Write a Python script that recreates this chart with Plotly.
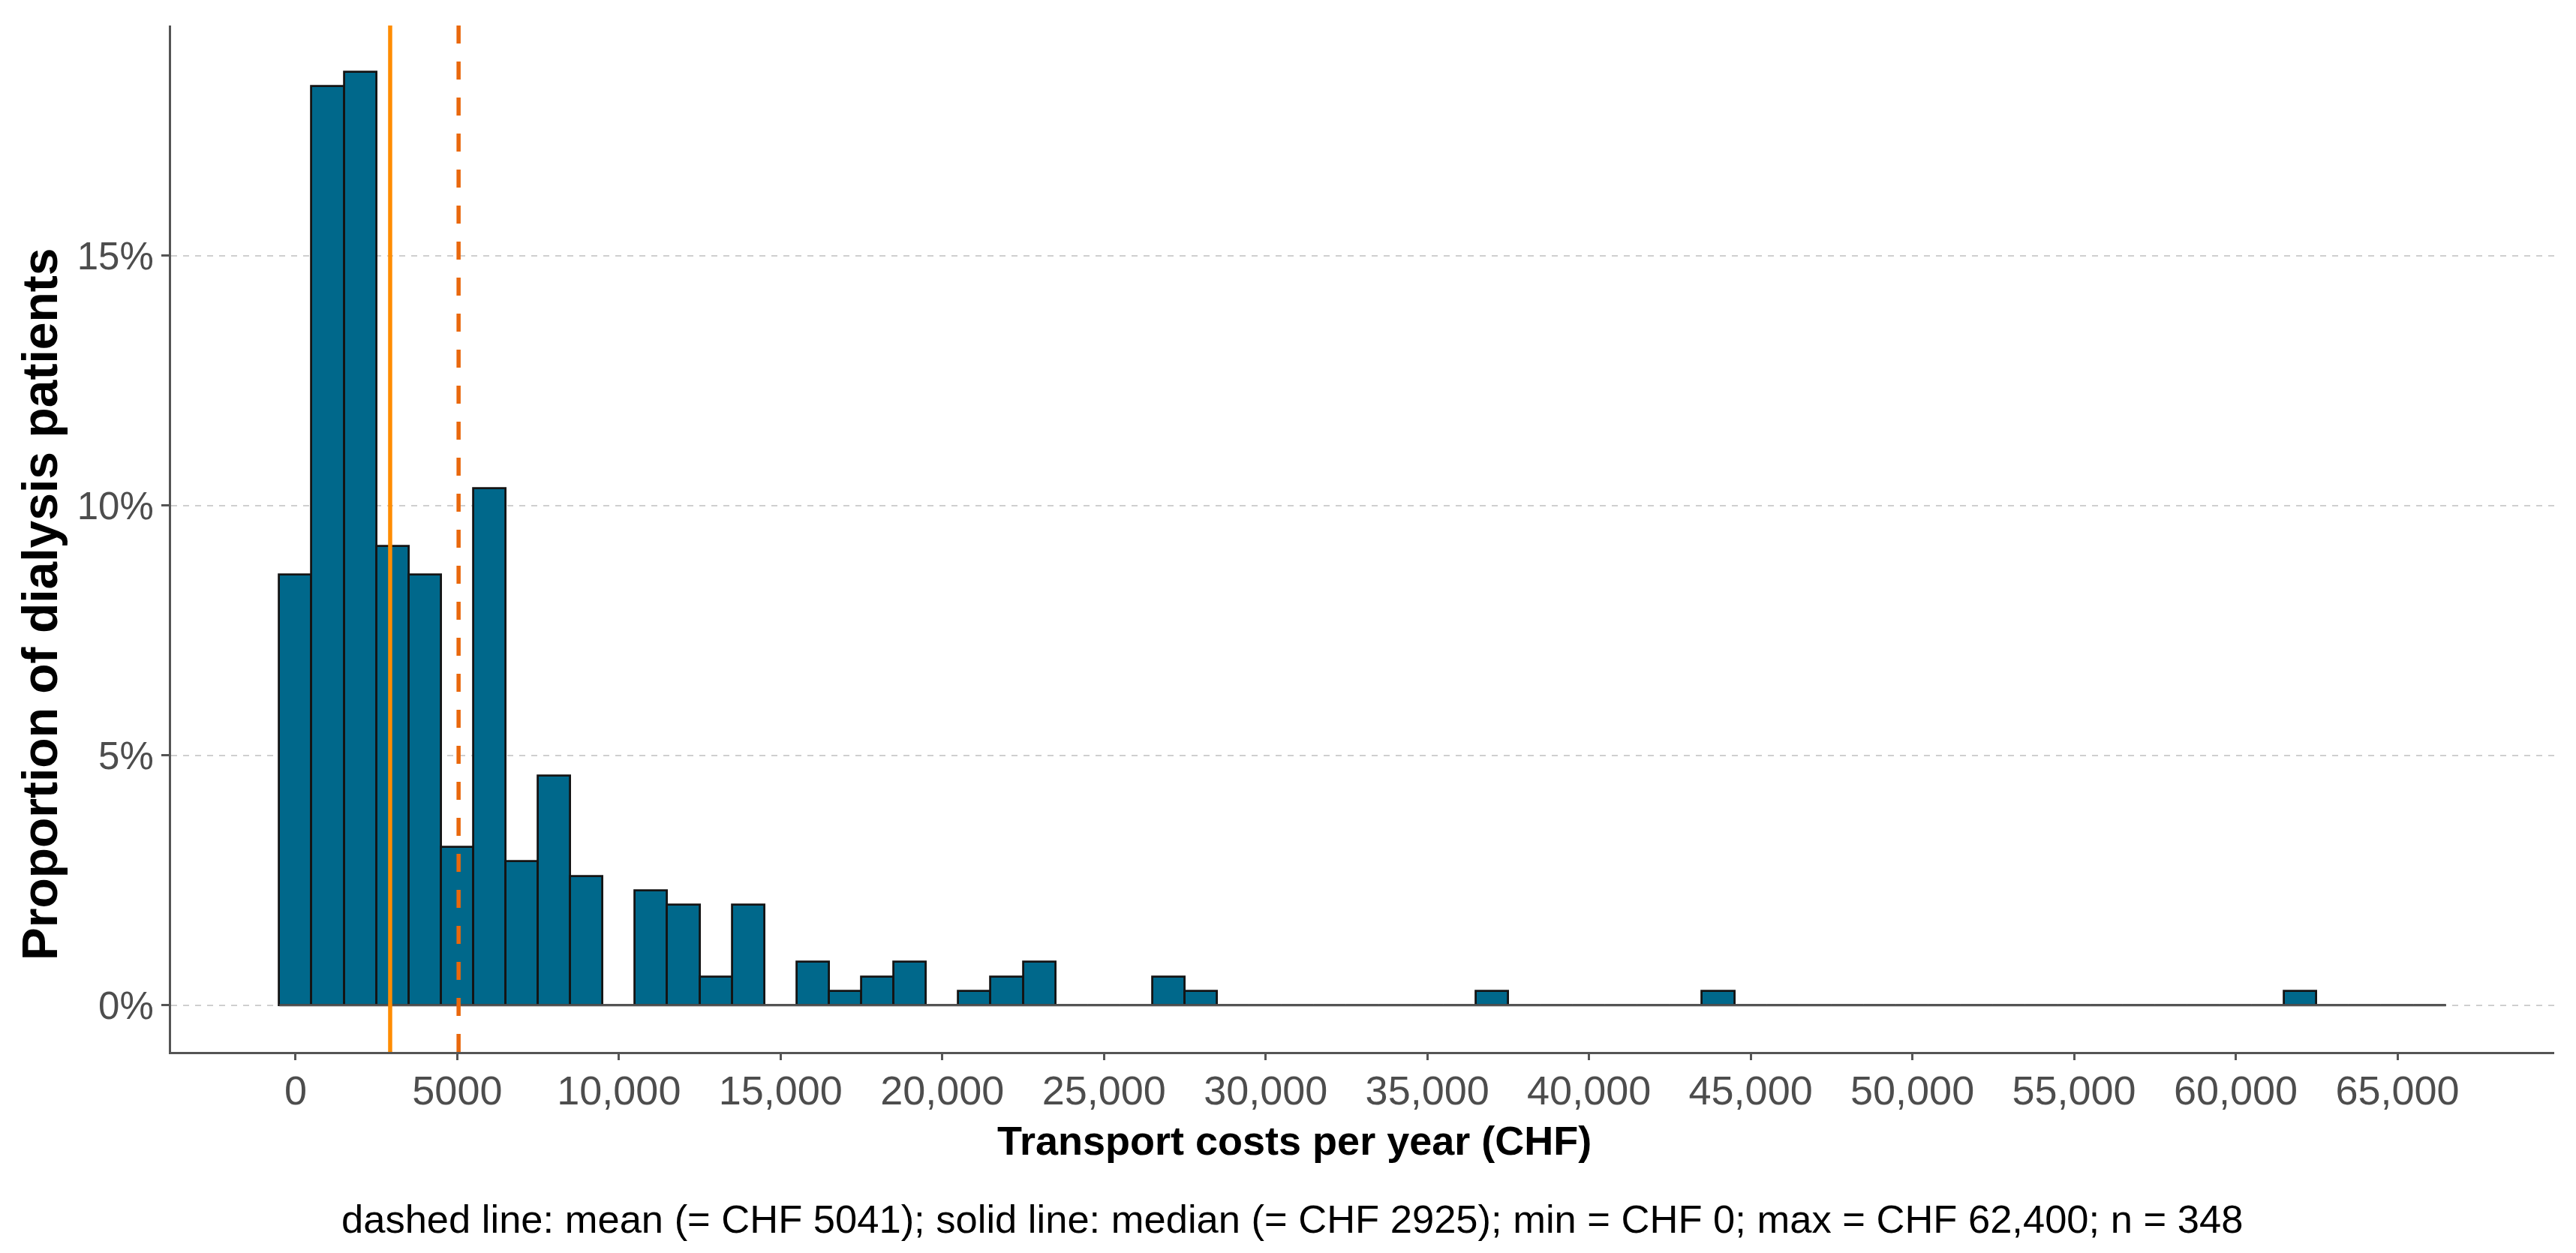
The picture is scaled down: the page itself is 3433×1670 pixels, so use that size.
import plotly.graph_objects as go

# ---- data ----
bin_width = 1000
bin_centers = list(range(0, 67000, 1000))  # 0 ... 66,000 CHF
counts = [30, 64, 65, 32, 30, 11, 36, 10, 16, 9,     # 0 - 9,000
          0, 8, 7, 2, 7, 0, 3, 1, 2, 3,              # 10,000 - 19,000
          0, 1, 2, 3, 0, 0, 0, 2, 1, 0,              # 20,000 - 29,000
          0, 0, 0, 0, 0, 0, 0, 1, 0, 0,              # 30,000 - 39,000
          0, 0, 0, 0, 1, 0, 0, 0, 0, 0,              # 40,000 - 49,000
          0, 0, 0, 0, 0, 0, 0, 0, 0, 0,              # 50,000 - 59,000
          0, 0, 1, 0, 0, 0, 0]                       # 60,000 - 66,000
n_patients = 348
mean_cost = 5041
median_cost = 2925

x_tick_vals = [0, 5000, 10000, 15000, 20000, 25000, 30000, 35000, 40000,
               45000, 50000, 55000, 60000, 65000]
x_tick_text = ["0", "5000", "10,000", "15,000", "20,000", "25,000", "30,000",
               "35,000", "40,000", "45,000", "50,000", "55,000", "60,000", "65,000"]
y_tick_vals = [0, 0.05, 0.10, 0.15]
y_tick_text = ["0%", "5%", "10%", "15%"]

x_title = "Transport costs per year (CHF)"
y_title = "Proportion of dialysis patients"
caption = ("dashed line: mean (= CHF 5041); solid line: median (= CHF 2925); "
           "min = CHF 0; max = CHF 62,400; n = 348")

# ---- derived ----
proportions = [c / n_patients for c in counts]
first_edge = bin_centers[0] - bin_width / 2
last_edge = bin_centers[-1] + bin_width / 2

FONT = "Liberation Sans, Arial, sans-serif"
BAR_FILL = "#00688B"
BAR_LINE = "#141414"
AXIS_GREY = "#555555"
TICK_TEXT = "#4D4D4D"

fig = go.Figure()

# zero baseline of the histogram (outline of empty bins)
fig.add_trace(go.Scatter(
    x=[first_edge, last_edge], y=[0, 0], mode="lines",
    line=dict(color="#555555", width=3), hoverinfo="skip", showlegend=False,
))

fig.add_trace(go.Bar(
    x=bin_centers, y=proportions, width=bin_width,
    marker=dict(color=BAR_FILL, line=dict(color=BAR_LINE, width=2.8)),
    showlegend=False,
))

# median (solid) and mean (dashed) lines
fig.add_shape(type="line", xref="x", yref="paper", x0=median_cost, x1=median_cost,
              y0=0, y1=1, line=dict(color="#FF8C00", width=5.5), layer="above")
fig.add_shape(type="line", xref="x", yref="paper", x0=mean_cost, x1=mean_cost,
              y0=0, y1=1, line=dict(color="#E9680C", width=5.5, dash="24px,24px"),
              layer="above")

fig.update_layout(
    width=3433, height=1670,
    margin=dict(l=220, r=37, t=26, b=276),
    paper_bgcolor="white", plot_bgcolor="white",
    font=dict(family=FONT, color=TICK_TEXT),
    bargap=0,
    showlegend=False,
)

fig.update_xaxes(
    range=[-3850, 69850],
    tickmode="array", tickvals=x_tick_vals, ticktext=x_tick_text,
    tickfont=dict(size=54, color=TICK_TEXT, family=FONT),
    ticks="outside", ticklen=8, tickwidth=3, tickcolor=AXIS_GREY,
    ticklabelstandoff=-6,
    showline=True, linecolor=AXIS_GREY, linewidth=3,
    showgrid=False, zeroline=False,
)
fig.update_yaxes(
    range=[-0.00934, 0.1961],
    tickmode="array", tickvals=y_tick_vals, ticktext=y_tick_text,
    tickfont=dict(size=51, color=TICK_TEXT, family=FONT),
    ticks="outside", ticklen=10, tickwidth=3, tickcolor=AXIS_GREY,
    showline=True, linecolor=AXIS_GREY, linewidth=3,
    showgrid=True, gridcolor="#CFCFCF", gridwidth=2, griddash="8px,8px",
    zeroline=False,
)

# axis titles and caption
fig.add_annotation(text=f"<b>{x_title}</b>", xref="paper", yref="paper",
                   x=0.4714, y=-0.0865, xanchor="center", yanchor="middle",
                   showarrow=False, font=dict(size=54, color="black", family=FONT))
fig.add_annotation(text=f"<b>{y_title}</b>", xref="paper", yref="paper",
                   x=-0.0550, y=0.4364, xanchor="center", yanchor="middle",
                   textangle=-90, showarrow=False,
                   font=dict(size=66, color="black", family=FONT))
fig.add_annotation(text=caption, xref="paper", yref="paper",
                   x=0.4704, y=-0.1625, xanchor="center", yanchor="middle",
                   showarrow=False, font=dict(size=52.5, color="black", family=FONT))

fig.write_html("out.html")
